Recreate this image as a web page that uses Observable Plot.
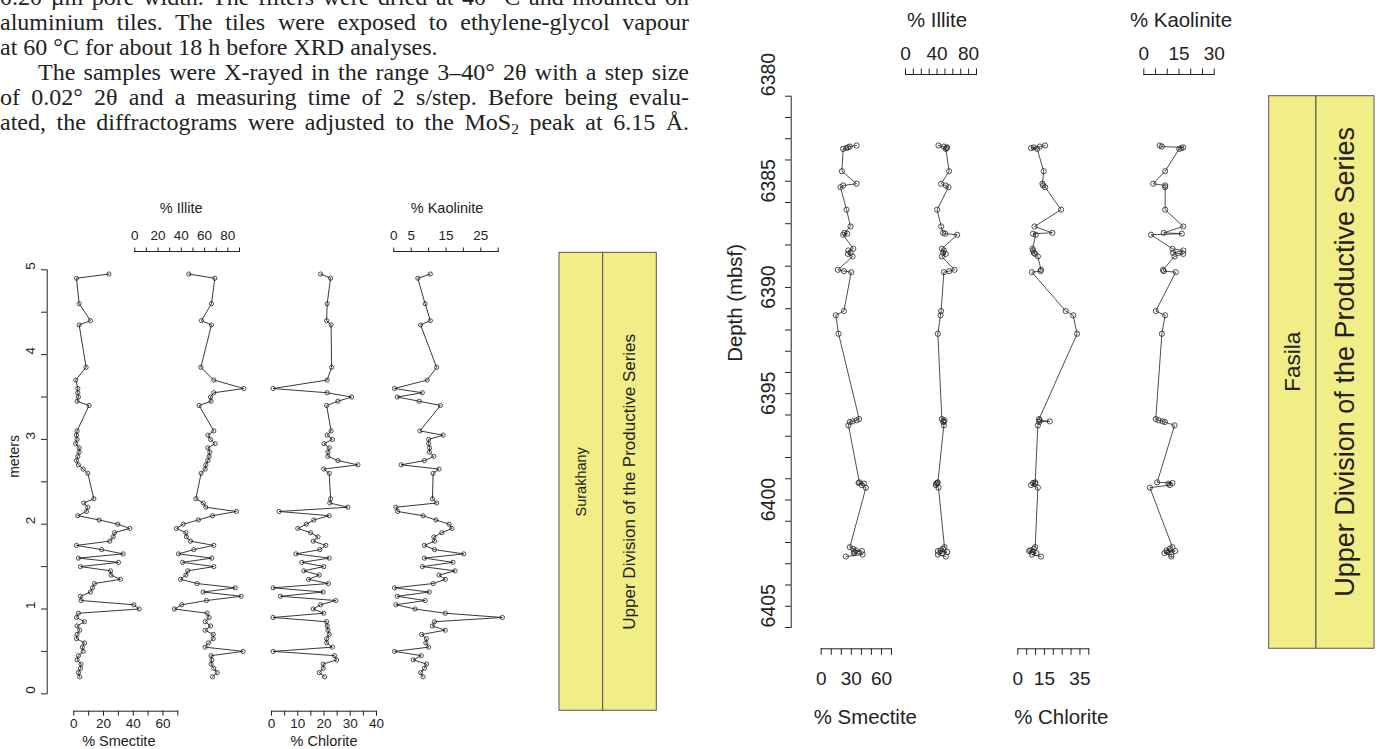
<!DOCTYPE html>
<html>
<head>
<meta charset="utf-8">
<script src="https://cdn.jsdelivr.net/npm/d3@7"></script>
<script src="https://cdn.jsdelivr.net/npm/@observablehq/plot@0.6"></script>
<style>
  html, body { margin: 0; padding: 0; background: #fff; }
  #page { position: relative; width: 1381px; height: 749px; overflow: hidden; background: #fff; }
  #para { position: absolute; left: 0px; top: -14.6px; width: 689px; font-family: "Liberation Serif", "DejaVu Serif", serif; font-size: 24px; line-height: 25px; color: #222; }
  #para .ln { text-align: justify; text-align-last: justify; }
  #para .end { text-align: left; text-align-last: left; }
  #para .ind { text-indent: 38px; }
  #para sub { font-size: 65%; line-height: 0; vertical-align: -0.25em; }
</style>
</head>
<body>
<div id="page">
  <div id="para"></div>
</div>
<script>
// ---------------- DATA ----------------
// Page text (top left)
const textLines = [
  ["ln", "0.20 µm pore width. The filters were dried at 40 °C and mounted on"],
  ["ln", "aluminium tiles. The tiles were exposed to ethylene-glycol vapour"],
  ["end", "at 60 °C for about 18 h before XRD analyses."],
  ["ln ind", "The samples were X-rayed in the range 3–40° 2θ with a step size"],
  ["ln", "of 0.02° 2θ and a measuring time of 2 s/step. Before being evalu-"],
  ["ln", "ated, the diffractograms were adjusted to the MoS<sub>2</sub> peak at 6.15 Å."]
];

// Left chart (Surakhany), depth in meters
const leftDepth = [4.95, 4.9, 4.6, 4.4, 4.35, 3.85, 3.7, 3.6, 3.55, 3.5, 3.45, 3.4,
  3.1, 3.05, 3.0, 2.95, 2.9, 2.85, 2.8, 2.75, 2.7, 2.65, 2.6,
  2.3, 2.25, 2.2, 2.15, 2.1, 2.05, 2.0, 1.95, 1.9, 1.85, 1.8, 1.75, 1.7, 1.65, 1.6, 1.55, 1.5,
  1.45, 1.4, 1.35, 1.3, 1.25, 1.2, 1.15, 1.1, 1.05, 1.0, 0.95, 0.9, 0.85, 0.8, 0.75, 0.7,
  0.65, 0.6, 0.55, 0.5, 0.45, 0.4, 0.35, 0.3, 0.25, 0.2];
const leftSmectite = [23.6, 1.8, 3.6, 11.2, 3.6, 8.3, 1.3, 2.7, 2.7, 3.1, 2.2, 10.3,
  2.2, 1.8, 2.2, 1.3, 3.6, 3.6, 2.7, 1.8, 3.1, 6.3, 9.4,
  13.5, 6.7, 9.4, 8.5, 2.7, 17.1, 29.6, 37.7, 27.4, 26.5, 24.2, 1.8, 18.8, 33.2, 3.1, 30.1, 4.5,
  24.7, 25.1, 31.4, 13.9, 12.6, 11.2, 4.5, 4.9, 40.4, 44.0, 3.1, 1.8, 7.2, 2.2, 4.0, 2.2,
  1.8, 7.2, 5.8, 6.3, 3.1, 2.2, 4.9, 4.5, 3.1, 4.0];
const leftIllite = [46.4, 68.8, 65.9, 57.3, 65.9, 56.8, 67.9, 93.7, 67.9, 65.1, 65.6, 55.3,
  67.9, 62.8, 65.1, 69.1, 62.8, 64.5, 63.9, 62.8, 61.0, 60.5, 57.0,
  52.5, 58.8, 61.0, 87.4, 66.8, 54.7, 41.6, 35.8, 43.9, 44.4, 47.9, 67.9, 50.7, 37.5, 66.2, 41.0, 67.9,
  45.6, 43.9, 39.3, 53.6, 86.3, 58.8, 91.4, 61.6, 40.4, 34.1, 62.2, 63.9, 60.5, 65.1, 60.5, 67.4,
  67.4, 63.3, 60.5, 93.1, 65.6, 66.2, 65.6, 67.9, 70.8, 66.8];
const leftChlorite = [18.7, 22.5, 21.2, 21.0, 22.7, 22.9, 21.2, 0.6, 21.2, 30.5, 25.3, 21.0,
  22.7, 21.2, 23.2, 20.0, 22.0, 21.5, 21.5, 25.3, 32.9, 19.9, 22.0,
  22.5, 22.2, 29.1, 2.9, 22.0, 16.1, 13.3, 10.0, 14.9, 17.7, 15.9, 20.7, 18.4, 9.3, 22.0, 11.6, 19.9,
  12.3, 18.2, 14.1, 21.7, 0.6, 19.7, 3.4, 24.5, 18.7, 15.9, 19.9, 0.6, 21.0, 21.2, 21.5, 22.0,
  21.0, 21.0, 23.2, 0.6, 24.0, 24.8, 19.7, 19.7, 18.2, 20.2];
const leftKaolinite = [10.5, 6.9, 9.0, 10.5, 7.7, 12.3, 9.6, 0.2, 8.2, 1.0, 7.3, 13.4,
  7.5, 14.2, 10.0, 10.0, 10.3, 10.2, 11.5, 8.8, 2.1, 13.0, 11.3,
  11.1, 12.3, 0.6, 1.1, 8.4, 12.1, 15.9, 16.7, 13.8, 11.5, 11.7, 8.8, 11.7, 20.1, 8.8, 17.0, 8.2,
  17.6, 13.0, 14.8, 11.3, 0.2, 10.2, 1.0, 9.0, 0.6, 6.1, 14.8, 31.2, 11.7, 11.1, 14.8, 8.0,
  9.4, 9.2, 10.0, 0.2, 7.9, 5.6, 9.4, 8.8, 7.7, 8.4];

// Right chart (Fasila), depth in mbsf
const rightDepth = [6382.32, 6382.37, 6382.41, 6382.44, 6382.48, 6383.53, 6384.12, 6384.2, 6384.28,
  6385.34, 6386.13, 6386.43, 6386.47, 6386.52, 6387.18, 6387.26, 6387.37, 6387.42, 6387.54,
  6388.17, 6388.23, 6388.28, 6390.11, 6390.31, 6391.18, 6395.19, 6395.25, 6395.3, 6395.33, 6395.49,
  6398.17, 6398.2, 6398.23, 6398.3, 6398.42, 6401.22, 6401.3, 6401.37, 6401.4, 6401.45, 6401.5, 6401.57, 6401.66];
const rightSmectite = [35.2, 28.5, 26.6, 25.0, 21.9, 20.6, 35.2, 21.9, 19.2, 25.2, 29.2, 23.2, 25.9, 21.9,
  31.9, 27.0, 29.2, 26.6, 31.2, 16.6, 22.6, 29.9, 22.6, 14.6, 17.3, 37.8, 35.2, 31.2, 28.5, 27.2,
  38.0, 37.2, 42.5, 40.5, 44.5, 28.5, 31.9, 34.5, 40.5, 33.2, 32.5, 41.2, 24.6];
const rightIllite = [41.8, 48.6, 52.8, 52.0, 51.1, 55.3, 45.2, 51.1, 54.5, 40.1, 45.2, 47.7, 50.3, 65.5,
  46.1, 48.6, 47.7, 51.1, 46.1, 62.1, 55.3, 48.6, 45.2, 44.4, 41.0, 46.1, 49.4, 47.7, 48.6, 48.6,
  41.0, 40.1, 39.0, 38.4, 41.8, 49.4, 47.7, 44.4, 41.0, 52.8, 46.9, 41.0, 51.1];
const rightChlorite = [15.4, 12.4, 9.0, 7.5, 10.9, 14.6, 13.9, 14.3, 15.4, 24.4, 9.4, 19.5, 8.6, 10.1,
  8.3, 8.6, 9.0, 9.8, 11.3, 13.1, 12.8, 7.9, 27.0, 31.2, 33.4, 12.0, 12.4, 18.0, 12.0, 11.3,
  9.8, 8.6, 9.8, 7.5, 11.3, 9.8, 9.0, 7.1, 6.4, 8.3, 10.5, 8.0, 13.1];
const rightKaolinite = [6.8, 7.7, 16.8, 16.0, 15.1, 9.1, 4.0, 9.1, 9.1, 9.1, 16.8, 8.5, 16.2, 3.1,
  12.2, 16.8, 12.5, 16.8, 13.1, 8.2, 8.5, 13.6, 5.1, 9.1, 7.7, 5.1, 6.3, 8.0, 9.0, 13.1,
  5.7, 12.2, 10.5, 11.1, 2.6, 12.2, 11.1, 9.7, 13.4, 10.0, 8.8, 11.7, 11.7];

// Axes: tick values and tick labels
const leftDepthTicks = d3.range(0, 5.001, 0.5);
const leftDepthLabels = [0, 1, 2, 3, 4, 5];
const rightDepthTicks = d3.range(6380, 6405.5, 1);
const rightDepthLabels = [6380, 6385, 6390, 6395, 6400, 6405];

const leftSmTicks = d3.range(0, 71, 10), leftSmLabels = [0, 20, 40, 60];
const leftIlTicks = d3.range(0, 91, 10), leftIlLabels = [0, 20, 40, 60, 80];
const leftChTicks = d3.range(0, 41, 5), leftChLabels = [0, 10, 20, 30, 40];
const leftKaTicks = d3.range(0, 31, 5), leftKaLabels = [0, 5, 15, 25];
const rightSmTicks = d3.range(0, 71, 10), rightSmLabels = [0, 30, 60];
const rightIlTicks = d3.range(0, 91, 10), rightIlLabels = [0, 40, 80];
const rightChTicks = d3.range(0, 41, 5), rightChLabels = [0, 15, 35];
const rightKaTicks = d3.range(0, 31, 5), rightKaLabels = [0, 15, 30];

// Lithostratigraphic units
const leftUnits = ["Surakhany", "Upper Division of the Productive Series"];
const rightUnits = ["Fasila", "Upper Division of the Productive Series"];
const leftUnitRange = [-0.2, 5.2];
const rightUnitRange = [6380, 6406];

// ---------------- LAYOUT ----------------
const W = 1381, H = 749;
const INK = "#222";
const FONT = "'Liberation Sans', Arial, Helvetica, sans-serif";
const svgStyle = {position: "absolute", left: "0px", top: "0px", background: "none",
  overflow: "visible", fontFamily: FONT, color: INK};
const page = document.getElementById("page");

const para = document.getElementById("para");
for (const [cls, html] of textLines) {
  const div = document.createElement("div");
  div.className = cls;
  div.innerHTML = html;
  para.appendChild(div);
}

const leftY = {domain: [0, 5], range: [693.3, 269.3]};
const rightY = {domain: [6380, 6405], range: [95.7, 627]};

function rowsOf(depth, sm, il, ch, ka) {
  return depth.map((d, i) => ({depth: d, sm: sm[i], il: il[i], ch: ch[i], ka: ka[i]}));
}
const leftRows = rowsOf(leftDepth, leftSmectite, leftIllite, leftChlorite, leftKaolinite);
const rightRows = rowsOf(rightDepth, rightSmectite, rightIllite, rightChlorite, rightKaolinite);

function column(c) {
  const top = c.anchor === "top";
  return Plot.plot({
    width: W, height: H,
    marginLeft: c.x0, marginRight: W - c.x1,
    marginTop: top ? c.line : 0,
    marginBottom: top ? 0 : H - c.line,
    x: {domain: [0, d3.max(c.ticks)]},
    y: {...c.yScale, axis: null},
    style: svgStyle,
    marks: [
      Plot.frame({anchor: c.anchor, stroke: INK, strokeWidth: 1}),
      Plot.axisX({anchor: c.anchor, ticks: c.ticks, label: null,
        tickFormat: d => c.labels.includes(d) ? String(d) : "",
        tickSize: c.tickSize, tickPadding: c.tickPadding, fontSize: c.fs, color: INK}),
      Plot.line(c.rows, {x: c.key, y: "depth", stroke: INK, strokeWidth: c.sw}),
      Plot.dot(c.rows, {x: c.key, y: "depth", r: c.r, stroke: INK, strokeWidth: 0.8, fill: "none"}),
      Plot.text([c.title], {text: d => d, frameAnchor: c.anchor, lineAnchor: "middle",
        dx: c.tdx, dy: c.tdy, fontSize: c.tfs, fill: INK})
    ]
  });
}

function depthAxis(c) {
  return Plot.plot({
    width: W, height: H,
    marginLeft: c.x, marginRight: W - c.x - 2,
    marginTop: Math.min(...c.yScale.range),
    marginBottom: H - Math.max(...c.yScale.range),
    y: {...c.yScale},
    style: svgStyle,
    marks: [
      Plot.frame({anchor: "left", stroke: INK, strokeWidth: 1}),
      Plot.axisY({anchor: "left", ticks: c.ticks, tickSize: c.tickSize, tickFormat: () => "",
        label: null, color: INK}),
      Plot.text(c.labels, {y: d => d, text: d => String(d), frameAnchor: "left", lineAnchor: "middle",
        rotate: -90, dx: c.labelDx, fontSize: c.fs, fill: INK}),
      Plot.text([c.title], {text: d => d, frameAnchor: "left", lineAnchor: "middle", rotate: -90,
        dx: c.titleDx, dy: c.titleDy, fontSize: c.tfs, fill: INK})
    ]
  });
}

function unitBox(c) {
  const edges = [0, 0.449, 1];
  const mid = (c.yScale.domain[0] + c.yScale.domain[1]) / 2;
  return Plot.plot({
    width: W, height: H,
    marginLeft: c.x0, marginRight: W - c.x1, marginTop: 0, marginBottom: 0,
    x: {domain: [0, 1], axis: null},
    y: {...c.yScale, axis: null},
    style: svgStyle,
    marks: [
      Plot.rect(c.units, {x1: (d, i) => edges[i], x2: (d, i) => edges[i + 1],
        y1: () => c.range[0], y2: () => c.range[1], fill: "#F1ED87", stroke: "#555", strokeWidth: 1}),
      Plot.text([c.units[0]], {text: d => d, x: () => (edges[0] + edges[1]) / 2, y: () => mid,
        rotate: -90, fontSize: c.fs0, fill: INK}),
      Plot.text([c.units[1]], {text: d => d, x: () => (edges[1] + edges[2]) / 2, y: () => mid,
        rotate: -90, fontSize: c.fs1, fill: INK})
    ]
  });
}

// Left chart
const L = {yScale: leftY, rows: leftRows, fs: 13.5, tfs: 14.5, r: 2.1, sw: 0.9};
const LB = {...L, anchor: "bottom", line: 710.7, tickSize: 5, tickPadding: 2.4, tdy: 30};
const LT = {...L, anchor: "top", line: 251, tickSize: 4.5, tickPadding: 6.6, tdy: -43};
page.appendChild(depthAxis({x: 46.7, yScale: leftY, ticks: leftDepthTicks, labels: leftDepthLabels,
  tickSize: 5.7, fs: 13.5, labelDx: -17, title: "meters", titleDx: -33, titleDy: -4, tfs: 14}));
page.appendChild(column({...LB, key: "sm", x0: 73.3, x1: 177.3, ticks: leftSmTicks, labels: leftSmLabels, title: "% Smectite", tdx: -7}));
page.appendChild(column({...LT, key: "il", x0: 134.3, x1: 239, ticks: leftIlTicks, labels: leftIlLabels, title: "% Illite", tdx: -6}));
page.appendChild(column({...LB, key: "ch", x0: 271, x1: 376, ticks: leftChTicks, labels: leftChLabels, title: "% Chlorite", tdx: 0}));
page.appendChild(column({...LT, key: "ka", x0: 393.3, x1: 497.7, ticks: leftKaTicks, labels: leftKaLabels, title: "% Kaolinite", tdx: 1}));
page.appendChild(unitBox({x0: 559, x1: 656.3, yScale: leftY, units: leftUnits, range: leftUnitRange, fs0: 14.5, fs1: 17}));

// Right chart
const R = {yScale: rightY, rows: rightRows, fs: 19, tfs: 20.4, r: 2.6, sw: 0.8};
const RB = {...R, anchor: "bottom", line: 648.3, tickSize: 6.5, tickPadding: 16.4, tdy: 68.7};
const RT = {...R, anchor: "top", line: 74, tickSize: 6.5, tickPadding: 7.7, tdy: -54};
page.appendChild(depthAxis({x: 790.7, yScale: rightY, ticks: rightDepthTicks, labels: rightDepthLabels,
  tickSize: 5.7, fs: 19.5, labelDx: -22.7, title: "Depth (mbsf)", titleDx: -55.7, titleDy: 0, tfs: 20.4}));
page.appendChild(column({...RB, key: "sm", x0: 820.7, x1: 891, ticks: rightSmTicks, labels: rightSmLabels, title: "% Smectite", tdx: 9}));
page.appendChild(column({...RT, key: "il", x0: 905, x1: 976, ticks: rightIlTicks, labels: rightIlLabels, title: "% Illite", tdx: -4}));
page.appendChild(column({...RB, key: "ch", x0: 1017.3, x1: 1088.3, ticks: rightChTicks, labels: rightChLabels, title: "% Chlorite", tdx: 8}));
page.appendChild(column({...RT, key: "ka", x0: 1143.3, x1: 1213.7, ticks: rightKaTicks, labels: rightKaLabels, title: "% Kaolinite", tdx: 2}));
page.appendChild(unitBox({x0: 1268.7, x1: 1374, yScale: rightY, units: rightUnits, range: rightUnitRange, fs0: 22.5, fs1: 27}));
</script>
</body>
</html>
